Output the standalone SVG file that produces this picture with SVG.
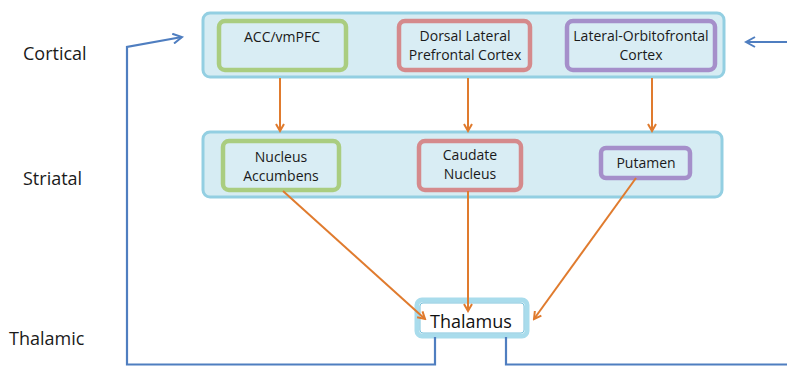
<svg xmlns="http://www.w3.org/2000/svg" width="787" height="367" viewBox="0 0 787 367">
<style>
.cont{fill:#d6ecf3;stroke:#93cfe2;stroke-width:3}
.box{fill:#d9edf4;stroke-width:4.5}
.g{stroke:#aacd80}
.r{stroke:#d58a8c}
.p{stroke:#a58fca}
.t{font-family:"Open Sans","Liberation Sans",sans-serif;font-size:14px;fill:#1a1a1a;text-anchor:middle}
.lab{font-family:"Open Sans","Liberation Sans",sans-serif;font-size:18px;fill:#1a1a1a}
.o{stroke:#e07b2e;stroke-width:2;fill:none;marker-end:url(#ao)}
.b{stroke:#4f7ec0;stroke-width:2.2;fill:none}
</style>
<defs>
<marker id="ao" markerWidth="10" markerHeight="10" refX="8" refY="5" orient="auto" markerUnits="userSpaceOnUse">
<path d="M1,1 L8,5 L1,9" fill="none" stroke="#e07b2e" stroke-width="2"/>
</marker>
<marker id="ab" markerWidth="12" markerHeight="12" refX="10" refY="6" orient="auto" markerUnits="userSpaceOnUse">
<path d="M1,1 L10,6 L1,11" fill="none" stroke="#4f7ec0" stroke-width="2"/>
</marker>
</defs>
<rect width="787" height="367" fill="#ffffff"/>
<g id="labels">
<text class="lab" x="23" y="60">Cortical</text>
<text class="lab" x="23" y="185">Striatal</text>
<text class="lab" x="9" y="345">Thalamic</text>
</g>
<g id="cortical">
<rect class="cont" x="203" y="13" width="521" height="64" rx="7"/>
</g>
<g id="striatal">
<rect class="cont" x="203" y="132" width="519" height="65" rx="7"/>
</g>
<g id="acc">
<rect class="box g" x="219" y="21" width="127" height="49" rx="6"/>
<text class="t" x="282" y="42">ACC/vmPFC</text>
</g>
<g id="dlpfc">
<rect class="box r" x="399" y="21" width="131" height="49" rx="6"/>
<text class="t" x="465" y="41">Dorsal Lateral</text>
<text class="t" x="465" y="60">Prefrontal Cortex</text>
</g>
<g id="lofc">
<rect class="box p" x="567" y="21" width="148" height="49" rx="6"/>
<text class="t" x="641" y="41">Lateral-Orbitofrontal</text>
<text class="t" x="641" y="60">Cortex</text>
</g>
<g id="nacc">
<rect class="box g" x="223" y="141" width="116" height="49" rx="6"/>
<text class="t" x="281" y="162">Nucleus</text>
<text class="t" x="281" y="181">Accumbens</text>
</g>
<g id="caudate">
<rect class="box r" x="419" y="141" width="102" height="49" rx="6"/>
<text class="t" x="470" y="160">Caudate</text>
<text class="t" x="470" y="179">Nucleus</text>
</g>
<g id="putamen">
<rect class="box p" x="601" y="148" width="89" height="30" rx="5"/>
<text class="t" x="646" y="168">Putamen</text>
</g>
<g id="thalamus">
<rect x="417" y="300" width="110" height="36" rx="5" fill="#ffffff" stroke="#a9dcec" stroke-width="5"/>
<rect x="420" y="303" width="104" height="30" rx="3" fill="#ffffff" stroke="#7cc3dc" stroke-width="1"/>
<text x="471" y="328" font-family="'Open Sans','Liberation Sans',sans-serif" font-size="18" fill="#111" text-anchor="middle">Thalamus</text>
</g>
<g id="connectors">
<line class="o" x1="280" y1="78" x2="280" y2="131"/>
<line class="o" x1="468" y1="78" x2="468" y2="131"/>
<line class="o" x1="652" y1="78" x2="652" y2="131"/>
<line class="o" x1="283" y1="191" x2="425" y2="319"/>
<line class="o" x1="468" y1="191" x2="468" y2="311"/>
<line class="o" x1="636" y1="178" x2="534" y2="319"/>
<path class="b" d="M435,337 L435,364.5 L127,364.5 L127,47 L182,37" marker-end="url(#ab)"/>
<path class="b" d="M506,337 L506,364.5 L789,364.5 L789,42 L746,42" marker-end="url(#ab)"/>
</g>
</svg>
